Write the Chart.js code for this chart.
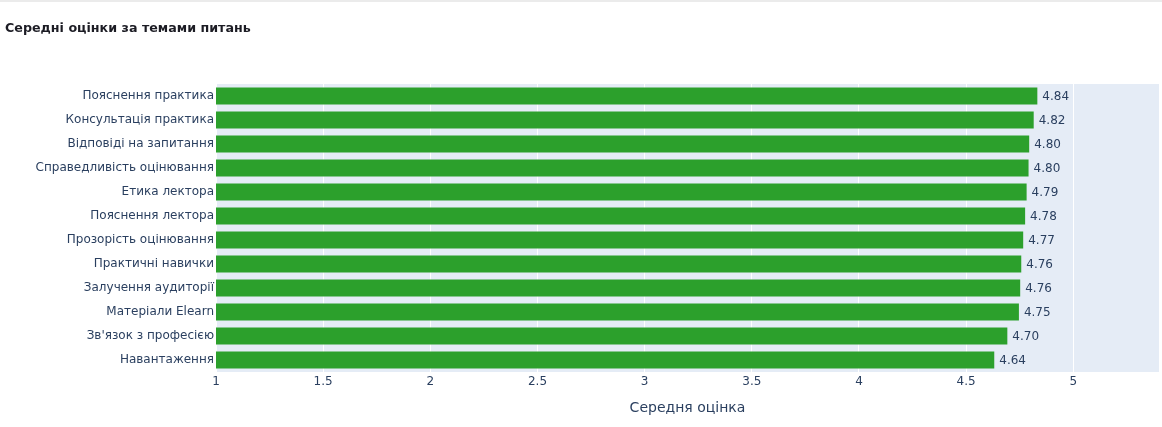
<!DOCTYPE html>
<html>
<script src="https://cdn.jsdelivr.net/npm/chart.js"></script>
<style type="text/css">
  body { margin: 0; background: #fff; }
  .chartBox { width: 1162px; height: 427px; }
</style>
<body>
  <div class="chartBox">
    <canvas id="myChart"></canvas>
  </div>

  <script>
    const topics = [
      'Пояснення практика', 'Консультація практика', 'Відповіді на запитання',
      'Справедливість оцінювання', 'Етика лектора', 'Пояснення лектора',
      'Прозорість оцінювання', 'Практичні навички', 'Залучення аудиторії',
      'Матеріали Elearn', "Зв'язок з професією", 'Навантаження'
    ];
    const avgScores = [4.837, 4.82, 4.799, 4.796, 4.787, 4.78, 4.771, 4.762, 4.757, 4.751, 4.697, 4.636];
    const xTicks = [1, 1.5, 2, 2.5, 3, 3.5, 4, 4.5, 5];

    const chartTitle = 'Середні оцінки за темами питань';
    const xTitle = 'Середня оцінка';

    const FONT = "'DejaVu Sans', Verdana, sans-serif";
    const TEXT = '#2a3f5f';

    // page title, thin grey rule at the top, plot background
    const pageDecor = {
      id: 'pageDecor',
      beforeDraw(chart) {
        const c = chart.ctx;
        const a = chart.chartArea;
        c.save();
        c.fillStyle = '#fff';
        c.fillRect(0, 0, chart.width, chart.height);
        c.fillStyle = '#ebebeb';
        c.fillRect(0, 0, chart.width, 2);
        c.fillStyle = '#e5ecf6';
        c.fillRect(a.left, a.top, a.right - a.left, a.bottom - a.top);
        c.font = 'bold 12.7px ' + FONT;
        c.fillStyle = '#1c1c24';
        c.textBaseline = 'middle';
        c.fillText(chartTitle, 5, 29);
        c.restore();
      }
    };

    // value text just past each bar end
    const barValues = {
      id: 'barValues',
      afterDatasetsDraw(chart) {
        const c = chart.ctx;
        const meta = chart.getDatasetMeta(0);
        c.save();
        c.font = '12px ' + FONT;
        c.fillStyle = TEXT;
        c.textBaseline = 'middle';
        meta.data.forEach((bar, i) => {
          c.fillText(avgScores[i].toFixed(2), bar.x + 4, bar.y + 1);
        });
        c.restore();
      }
    };

    const ctx = document.getElementById('myChart').getContext('2d');
    const myChart = new Chart(ctx, {
      type: 'bar',
      data: {
        labels: topics,
        datasets: [{
          data: avgScores,
          backgroundColor: '#2ca02c',
          borderColor: 'rgba(229,236,246,0.45)',
          borderWidth: 1,
          borderSkipped: false,
          categoryPercentage: 0.8,
          barPercentage: 1
        }]
      },
      plugins: [pageDecor, barValues],
      options: {
        indexAxis: 'y',
        responsive: true,
        maintainAspectRatio: false,
        animation: false,
        layout: { padding: { left: 0, right: 3, top: 84, bottom: 0 } },
        plugins: {
          legend: false,
          tooltip: { enabled: false }
        },
        scales: {
          x: {
            type: 'linear',
            min: 1,
            max: 5.4,
            afterBuildTicks(scale) {
              scale.ticks = xTicks.map(v => ({ value: v }));
            },
            afterFit(scale) { scale.height = 55; },
            grid: { color: '#ffffff', lineWidth: 1, drawTicks: false },
            border: { display: false },
            ticks: {
              color: TEXT,
              font: { family: FONT, size: 12 },
              padding: 3,
              maxRotation: 0,
              callback: v => String(v)
            },
            title: {
              display: true,
              text: xTitle,
              color: TEXT,
              font: { family: FONT, size: 14 },
              padding: { top: 4, bottom: 10 }
            }
          },
          y: {
            afterFit(scale) { scale.width = 216; },
            grid: { display: false, drawTicks: false },
            border: { display: false },
            ticks: {
              color: TEXT,
              font: { family: FONT, size: 12 },
              padding: 2
            }
          }
        }
      }
    });
  </script>
</body>
</html>
